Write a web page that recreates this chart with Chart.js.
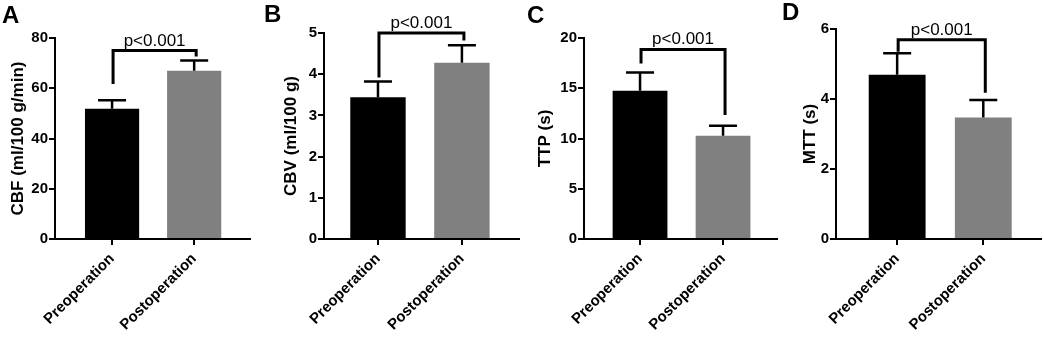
<!DOCTYPE html>
<html>
<head>
<meta charset="utf-8">
<script src="https://cdn.jsdelivr.net/npm/chart.js@4.4.0/dist/chart.umd.min.js"></script>
<style>
  html, body { margin: 0; padding: 0; background: #fff; }
  #wrap { position: relative; width: 1044px; height: 337px; overflow: hidden; }
  .panel { position: absolute; top: 0; }
</style>
</head>
<body>
<div id="wrap"></div>
<script>
// ---- Data ----
var categories = ['Preoperation', 'Postoperation'];
var letters = ['A', 'B', 'C', 'D'];
var yTitles = ['CBF (ml/100 g/min)', 'CBV (ml/100 g)', 'TTP (s)', 'MTT (s)'];
var preMeans = [51.8, 3.44, 14.74, 4.69];
var postMeans = [67.0, 4.28, 10.28, 3.47];
var preSD = [3.4, 0.38, 1.83, 0.62];
var postSD = [4.0, 0.42, 0.99, 0.50];
var yMax = [80, 5, 20, 6];
var yStep = [20, 1, 5, 2];
var pLabels = ['p<0.001', 'p<0.001', 'p<0.001', 'p<0.001'];
var bracketTop = [75, 5.0, 18.86, 5.69];
var bracketLeftEnd = [61.7, 3.92, 17.46, 5.35];
var bracketRightEnd = [72.6, 4.82, 12.33, 4.18];

// ---- Layout (pixels, page coords) ----
var panels = [
  { left: 0,   width: 260, padL: 6,  axisX: 55,  top: 38, right: 250,  xMin: 0.305, xMax: 2.68, letterX: 2, letterY: 4 },
  { left: 260, width: 260, padL: 19, axisX: 324, top: 33, right: 519,  xMin: 0.357, xMax: 2.68, letterX: 4, letterY: 3 },
  { left: 520, width: 260, padL: 13, axisX: 584, top: 38, right: 777,  xMin: 0.325, xMax: 2.65, letterX: 7, letterY: 4 },
  { left: 780, width: 264, padL: 18, axisX: 836, top: 29, right: 1041, xMin: 0.29,  xMax: 2.67, letterX: 2, letterY: 1 }
];
var axisBottom = 239;
var barColors = ['#000000', '#808080'];
var FONT = '"Liberation Sans", Arial, Helvetica, sans-serif';

// ---- Error bars, bracket, p label, panel letter ----
function makeOverlay(p) {
  var L = panels[p];
  return {
    id: 'overlay' + p,
    afterDatasetsDraw: function(chart) {
      var ctx = chart.ctx, xs = chart.scales.x, ys = chart.scales.y;
      var means = [preMeans[p], postMeans[p]];
      var sds = [preSD[p], postSD[p]];
      ctx.save();
      ctx.strokeStyle = '#000';
      ctx.lineWidth = 2.5;
      means.forEach(function(m, i) {
        var x = xs.getPixelForValue(i + 1);
        var y0 = ys.getPixelForValue(m);
        var y1 = ys.getPixelForValue(m + sds[i]);
        ctx.beginPath();
        ctx.moveTo(x, y0); ctx.lineTo(x, y1);
        ctx.moveTo(x - 14, y1); ctx.lineTo(x + 14, y1);
        ctx.stroke();
      });
      // significance bracket
      var xl = xs.getPixelForValue(1) + 1;
      var xr = xs.getPixelForValue(2) + 2;
      var yt = ys.getPixelForValue(bracketTop[p]);
      ctx.lineWidth = 3;
      ctx.lineJoin = 'miter';
      ctx.beginPath();
      ctx.moveTo(xl, ys.getPixelForValue(bracketLeftEnd[p]));
      ctx.lineTo(xl, yt);
      ctx.lineTo(xr, yt);
      ctx.lineTo(xr, ys.getPixelForValue(bracketRightEnd[p]));
      ctx.stroke();
      ctx.fillStyle = '#000';
      ctx.font = '17px ' + FONT;
      ctx.textAlign = 'center';
      ctx.textBaseline = 'alphabetic';
      ctx.fillText(pLabels[p], (xl + xr) / 2, yt - 5);
      // panel letter
      ctx.font = 'bold 24px ' + FONT;
      ctx.textAlign = 'left';
      ctx.textBaseline = 'top';
      ctx.fillText(letters[p], L.letterX, L.letterY);
      ctx.restore();
    }
  };
}

// ---- Build the four charts ----
var wrap = document.getElementById('wrap');
panels.forEach(function(L, p) {
  var div = document.createElement('div');
  div.className = 'panel';
  div.style.left = L.left + 'px';
  var canvas = document.createElement('canvas');
  canvas.width = L.width;
  canvas.height = 337;
  canvas.style.width = L.width + 'px';
  canvas.style.height = '337px';
  div.appendChild(canvas);
  wrap.appendChild(div);

  new Chart(canvas, {
    type: 'bar',
    data: {
      datasets: [{
        data: categories.map(function(c, i) {
          return { x: i + 1, y: i === 0 ? preMeans[p] : postMeans[p] };
        }),
        backgroundColor: barColors,
        borderWidth: 0,
        barPercentage: 0.66,
        categoryPercentage: 1
      }]
    },
    options: {
      responsive: false,
      animation: false,
      devicePixelRatio: 1,
      plugins: { legend: { display: false }, tooltip: { enabled: false } },
      layout: {
        padding: { top: L.top, right: L.width - (L.right - L.left), left: L.padL, bottom: 0 }
      },
      scales: {
        x: {
          type: 'linear',
          min: L.xMin,
          max: L.xMax,
          offset: false,
          afterBuildTicks: function(s) { s.ticks = [{ value: 1 }, { value: 2 }]; },
          afterFit: function(s) { s.height = 337 - axisBottom; },
          grid: {
            offset: false,
            drawOnChartArea: false,
            drawTicks: true,
            tickLength: 6,
            lineWidth: 2,
            color: '#000'
          },
          border: { display: true, color: '#000', width: 2 },
          ticks: {
            autoSkip: false,
            minRotation: 45,
            maxRotation: 45,
            padding: 5,
            color: '#000',
            font: { family: FONT, size: 15, weight: 'bold' },
            callback: function(v) { return categories[v - 1]; }
          }
        },
        y: {
          min: 0,
          max: yMax[p],
          afterFit: function(s) { s.width = L.axisX - L.left - L.padL; },
          grid: { drawOnChartArea: false, drawTicks: true, tickLength: 6, color: '#000', lineWidth: 2 },
          border: { display: true, color: '#000', width: 2 },
          ticks: {
            stepSize: yStep[p],
            padding: 1,
            color: '#000',
            font: { family: FONT, size: 15, weight: 'bold' }
          },
          title: {
            display: true,
            text: yTitles[p],
            color: '#000',
            padding: { top: 2, bottom: 0 },
            font: { family: FONT, size: 17, weight: 'bold' }
          }
        }
      }
    },
    plugins: [makeOverlay(p)]
  });
});
</script>
</body>
</html>
